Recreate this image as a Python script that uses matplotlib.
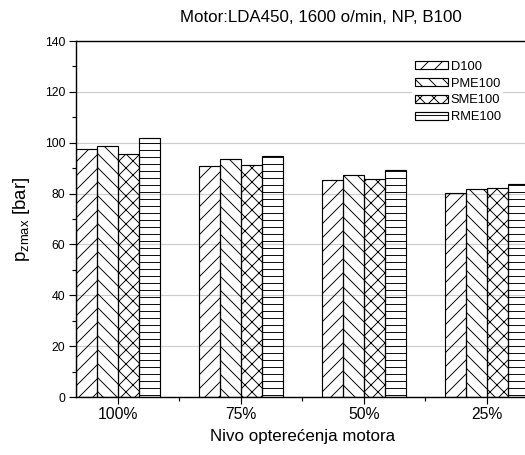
import matplotlib
matplotlib.use("Agg")
import matplotlib.pyplot as plt
import numpy as np
from matplotlib.ticker import MultipleLocator, FixedLocator

plt.rcParams['font.family'] = ['Liberation Sans', 'DejaVu Sans']
plt.rcParams['hatch.linewidth'] = 0.8

categories = ['100%', '75%', '50%', '25%']
series_names = ['D100', 'PME100', 'SME100', 'RME100']
D100 = [97.4, 90.8, 85.2, 80.3]
PME100 = [98.7, 93.6, 87.3, 81.9]
SME100 = [95.7, 91.2, 85.6, 82.3]
RME100 = [102.0, 94.6, 89.1, 83.8]
series_values = [D100, PME100, SME100, RME100]
hatches = ['//', '\\\\', 'xx', '--']

DPI = 84
fig = plt.figure(figsize=(525 / DPI, 455 / DPI), dpi=DPI)
ax = fig.add_axes([76 / 525, 58 / 455, 453 / 525, 356 / 455])

x = np.arange(len(categories))
w = 0.171
for i, (name, vals, h) in enumerate(zip(series_names, series_values, hatches)):
    ax.bar(x + (i - 1.5) * w, vals, w, facecolor='none', edgecolor='black',
           hatch=h, linewidth=1.0, label=name, zorder=2)

ax.set_xlim(-0.34, 3.345)
ax.set_ylim(0, 140)
ax.yaxis.set_major_locator(MultipleLocator(20))
ax.yaxis.set_minor_locator(MultipleLocator(10))
ax.set_xticks(x)
ax.set_xticklabels(categories)
ax.xaxis.set_minor_locator(FixedLocator([0.5, 1.5, 2.5]))

ax.grid(axis='y', which='major', color='#cccccc', linewidth=1.0, zorder=0)
ax.set_axisbelow(True)

ax.tick_params(axis='both', which='major', direction='out', length=6, width=1.0)
ax.tick_params(axis='y', which='major', labelsize=10.5, pad=3)
ax.tick_params(axis='x', which='major', labelsize=13.5, pad=2.5)
ax.tick_params(axis='both', which='minor', direction='out', length=3.5, width=1.0)
for s in ax.spines.values():
    s.set_linewidth(1.2)

fig.text(321 / 525, 1 - 17 / 455, 'Motor:LDA450, 1600 o/min, NP, B100',
         fontsize=14.5, ha='center', va='center')
ax.set_xlabel('Nivo opterećenja motora', fontsize=14.5, labelpad=6)
ax.set_ylabel(r'p$_{\mathregular{zmax}}$ [bar]', fontsize=16, labelpad=11)

leg = ax.legend(loc='upper left', bbox_to_anchor=(336 / 453, 0.952), frameon=True,
                fontsize=11, handlelength=2.6, handleheight=0.6,
                handletextpad=0.2, labelspacing=0.38, borderpad=0.2,
                borderaxespad=0)
leg.get_frame().set_edgecolor('none')
leg.get_frame().set_facecolor('white')
leg.get_frame().set_alpha(1)

fig.savefig('out.png', dpi=DPI)
